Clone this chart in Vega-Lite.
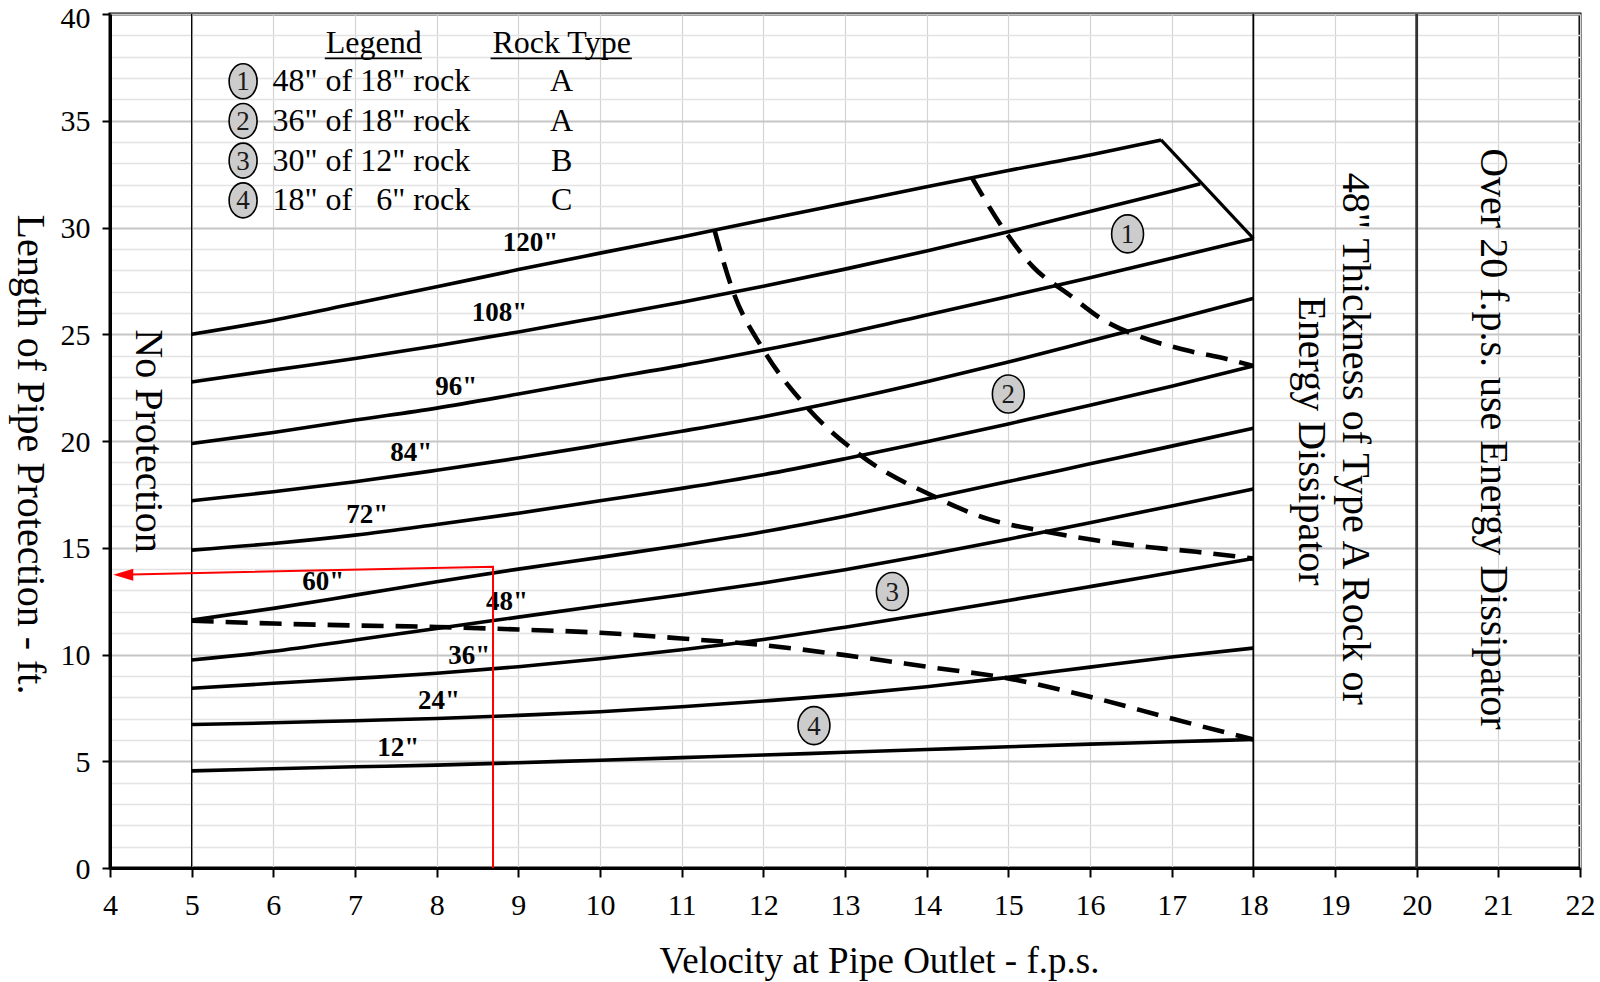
{
  "$schema": "https://vega.github.io/schema/vega-lite/v6.json",
  "width": 1470,
  "height": 854,
  "autosize": {"type": "none"},
  "padding": {"left": 110, "top": 14, "right": 20, "bottom": 114},
  "background": "#ffffff",
  "config": {"font": "Liberation Serif", "view": {"stroke": "#000000", "strokeWidth": 3}},
  "datasets": {
    "curves": [
      {"d":"120","x":5,"y":25.0},{"d":"120","x":6,"y":25.66},{"d":"120","x":7,"y":26.44},{"d":"120","x":8,"y":27.22},{"d":"120","x":9,"y":28.03},{"d":"120","x":10,"y":28.8},{"d":"120","x":11,"y":29.56},{"d":"120","x":12,"y":30.35},{"d":"120","x":13,"y":31.13},{"d":"120","x":14,"y":31.91},{"d":"120","x":15,"y":32.67},{"d":"120","x":16,"y":33.4},{"d":"120","x":16.87,"y":34.1},
      {"d":"108","x":5,"y":22.77},{"d":"108","x":6,"y":23.32},{"d":"108","x":7,"y":23.86},{"d":"108","x":8,"y":24.46},{"d":"108","x":9,"y":25.11},{"d":"108","x":10,"y":25.8},{"d":"108","x":11,"y":26.5},{"d":"108","x":12,"y":27.25},{"d":"108","x":13,"y":28.05},{"d":"108","x":14,"y":28.9},{"d":"108","x":15,"y":29.8},{"d":"108","x":16,"y":30.75},{"d":"108","x":17,"y":31.7},{"d":"108","x":17.35,"y":32.05},
      {"d":"96","x":5,"y":19.88},{"d":"96","x":6,"y":20.4},{"d":"96","x":7,"y":20.98},{"d":"96","x":8,"y":21.54},{"d":"96","x":9,"y":22.2},{"d":"96","x":10,"y":22.88},{"d":"96","x":11,"y":23.53},{"d":"96","x":12,"y":24.26},{"d":"96","x":13,"y":25.04},{"d":"96","x":14,"y":25.9},{"d":"96","x":15,"y":26.77},{"d":"96","x":16,"y":27.65},{"d":"96","x":17,"y":28.56},{"d":"96","x":18,"y":29.49},
      {"d":"84","x":5,"y":17.2},{"d":"84","x":6,"y":17.62},{"d":"84","x":7,"y":18.09},{"d":"84","x":8,"y":18.63},{"d":"84","x":9,"y":19.2},{"d":"84","x":10,"y":19.82},{"d":"84","x":11,"y":20.46},{"d":"84","x":12,"y":21.14},{"d":"84","x":13,"y":21.92},{"d":"84","x":14,"y":22.78},{"d":"84","x":15,"y":23.7},{"d":"84","x":16,"y":24.68},{"d":"84","x":17,"y":25.67},{"d":"84","x":18,"y":26.68},
      {"d":"72","x":5,"y":14.89},{"d":"72","x":6,"y":15.2},{"d":"72","x":7,"y":15.59},{"d":"72","x":8,"y":16.09},{"d":"72","x":9,"y":16.62},{"d":"72","x":10,"y":17.2},{"d":"72","x":11,"y":17.78},{"d":"72","x":12,"y":18.42},{"d":"72","x":13,"y":19.17},{"d":"72","x":14,"y":19.97},{"d":"72","x":15,"y":20.8},{"d":"72","x":16,"y":21.67},{"d":"72","x":17,"y":22.57},{"d":"72","x":18,"y":23.51},
      {"d":"60","x":5,"y":11.61},{"d":"60","x":6,"y":12.16},{"d":"60","x":7,"y":12.78},{"d":"60","x":8,"y":13.41},{"d":"60","x":9,"y":14.0},{"d":"60","x":10,"y":14.55},{"d":"60","x":11,"y":15.12},{"d":"60","x":12,"y":15.75},{"d":"60","x":13,"y":16.48},{"d":"60","x":14,"y":17.28},{"d":"60","x":15,"y":18.1},{"d":"60","x":16,"y":18.93},{"d":"60","x":17,"y":19.76},{"d":"60","x":18,"y":20.6},
      {"d":"48","x":5,"y":9.74},{"d":"48","x":6,"y":10.15},{"d":"48","x":7,"y":10.68},{"d":"48","x":8,"y":11.22},{"d":"48","x":9,"y":11.75},{"d":"48","x":10,"y":12.28},{"d":"48","x":11,"y":12.8},{"d":"48","x":12,"y":13.35},{"d":"48","x":13,"y":13.97},{"d":"48","x":14,"y":14.66},{"d":"48","x":15,"y":15.4},{"d":"48","x":16,"y":16.17},{"d":"48","x":17,"y":16.96},{"d":"48","x":18,"y":17.75},
      {"d":"36","x":5,"y":8.42},{"d":"36","x":6,"y":8.65},{"d":"36","x":7,"y":8.88},{"d":"36","x":8,"y":9.12},{"d":"36","x":9,"y":9.43},{"d":"36","x":10,"y":9.8},{"d":"36","x":11,"y":10.22},{"d":"36","x":12,"y":10.7},{"d":"36","x":13,"y":11.28},{"d":"36","x":14,"y":11.9},{"d":"36","x":15,"y":12.53},{"d":"36","x":16,"y":13.18},{"d":"36","x":17,"y":13.84},{"d":"36","x":18,"y":14.5},
      {"d":"24","x":5,"y":6.72},{"d":"24","x":6,"y":6.8},{"d":"24","x":7,"y":6.9},{"d":"24","x":8,"y":7.0},{"d":"24","x":9,"y":7.15},{"d":"24","x":10,"y":7.32},{"d":"24","x":11,"y":7.55},{"d":"24","x":12,"y":7.82},{"d":"24","x":13,"y":8.12},{"d":"24","x":14,"y":8.49},{"d":"24","x":15,"y":8.93},{"d":"24","x":16,"y":9.41},{"d":"24","x":17,"y":9.88},{"d":"24","x":18,"y":10.3},
      {"d":"12","x":5,"y":4.55},{"d":"12","x":6,"y":4.65},{"d":"12","x":7,"y":4.74},{"d":"12","x":8,"y":4.82},{"d":"12","x":9,"y":4.93},{"d":"12","x":10,"y":5.05},{"d":"12","x":11,"y":5.17},{"d":"12","x":12,"y":5.29},{"d":"12","x":13,"y":5.42},{"d":"12","x":14,"y":5.55},{"d":"12","x":15,"y":5.68},{"d":"12","x":16,"y":5.8},{"d":"12","x":17,"y":5.91},{"d":"12","x":18,"y":6.02}
    ],
    "cap": [{"x":16.87,"y":34.1},{"x":18,"y":29.49}],
    "dashed": [
      {"d":"A","x":11.4,"y":29.9},{"d":"A","x":11.63,"y":27.0},{"d":"A","x":11.99,"y":24.34},{"d":"A","x":12.53,"y":21.6},{"d":"A","x":13.2,"y":19.3},{"d":"A","x":14.08,"y":17.42},{"d":"A","x":14.75,"y":16.35},{"d":"A","x":15.4,"y":15.8},{"d":"A","x":16.05,"y":15.36},{"d":"A","x":16.67,"y":15.05},{"d":"A","x":17.3,"y":14.81},{"d":"A","x":18,"y":14.5},
      {"d":"B","x":14.55,"y":32.36},{"d":"B","x":14.95,"y":29.88},{"d":"B","x":15.3,"y":28.17},{"d":"B","x":15.75,"y":26.84},{"d":"B","x":16.15,"y":25.7},{"d":"B","x":16.64,"y":24.85},{"d":"B","x":17.17,"y":24.26},{"d":"B","x":17.73,"y":23.79},{"d":"B","x":18,"y":23.51},
      {"d":"C","x":5,"y":11.58},{"d":"C","x":6,"y":11.45},{"d":"C","x":7,"y":11.36},{"d":"C","x":8,"y":11.29},{"d":"C","x":9,"y":11.17},{"d":"C","x":10,"y":11.02},{"d":"C","x":11,"y":10.75},{"d":"C","x":12,"y":10.44},{"d":"C","x":13,"y":9.97},{"d":"C","x":14,"y":9.43},{"d":"C","x":15,"y":8.88},{"d":"C","x":16,"y":8.02},{"d":"C","x":17,"y":7.0},{"d":"C","x":18,"y":6.02}
    ],
    "badges": [
      {"t":"1","x":16.46,"y":29.7},{"t":"2","x":15.0,"y":22.2},{"t":"3","x":13.58,"y":12.95},{"t":"4","x":12.62,"y":6.67}
    ],
    "legendBadges": [
      {"t":"1","x":5.63,"y":36.85},{"t":"2","x":5.63,"y":34.99},{"t":"3","x":5.63,"y":33.13},{"t":"4","x":5.63,"y":31.27}
    ],
    "legendRows": [
      {"t":"48\" of 18\" rock","x":5.99,"y":36.85},{"t":"36\" of 18\" rock","x":5.99,"y":34.99},{"t":"30\" of 12\" rock","x":5.99,"y":33.13},{"t":"18\" of\u00a0\u00a0\u00a06\" rock","x":5.99,"y":31.27}
    ],
    "centered": [
      {"t":"Legend","x":7.23,"y":38.62},{"t":"Rock Type","x":9.53,"y":38.62},
      {"t":"A","x":9.53,"y":36.85},{"t":"A","x":9.53,"y":34.99},{"t":"B","x":9.53,"y":33.13},{"t":"C","x":9.53,"y":31.27}
    ],
    "underlines": [
      {"x":6.63,"x2":7.82,"y":37.92},{"x":8.66,"x2":10.39,"y":37.92}
    ],
    "curveLabels": [
      {"t":"120\"","x":9.15,"y":29.26},{"t":"108\"","x":8.77,"y":25.98},{"t":"96\"","x":8.24,"y":22.54},{"t":"84\"","x":7.69,"y":19.42},{"t":"72\"","x":7.15,"y":16.53},{"t":"60\"","x":6.61,"y":13.41},{"t":"48\"","x":8.86,"y":12.46},{"t":"36\"","x":8.4,"y":9.92},{"t":"24\"","x":8.03,"y":7.82},{"t":"12\"","x":7.53,"y":5.64}
    ],
    "notes": [
      {"t":"No Protection","x":4.46,"y":20.0},
      {"t":"48\" Thickness of Type A Rock or","x":19.24,"y":20.1},
      {"t":"Energy Dissipator","x":18.71,"y":20.0},
      {"t":"Over 20 f.p.s. use Energy Dissipator","x":20.93,"y":20.1}
    ],
    "redPath": [
      {"o":1,"x":8.69,"y":0},{"o":2,"x":8.69,"y":14.11},{"o":3,"x":4.12,"y":13.74}
    ],
    "arrow": [{"x":4.04,"y":13.73}]
  },
  "encoding": {
    "x": {
      "field": "x", "type": "quantitative",
      "scale": {"domain": [4, 22], "nice": false, "zero": false},
      "axis": {
        "values": [4,5,6,7,8,9,10,11,12,13,14,15,16,17,18,19,20,21,22],
        "title": "Velocity at Pipe Outlet - f.p.s.",
        "grid": true, "gridColor": "#d4d4d4", "gridWidth": 1.2,
        "domainColor": "#000000", "domainWidth": 3,
        "tickColor": "#000000", "tickWidth": 2, "tickSize": 9,
        "labelFont": "Liberation Serif", "labelFontSize": 30, "labelColor": "#000000", "labelPadding": 13,
        "labelFlush": false, "labelOverlap": false,
        "titleFont": "Liberation Serif", "titleFontSize": 37, "titleFontWeight": "normal", "titleColor": "#000000",
        "titleX": 769, "titleY": 104, "titleBaseline": "alphabetic", "titleAlign": "center"
      }
    },
    "y": {
      "field": "y", "type": "quantitative",
      "scale": {"domain": [0, 40], "nice": false, "zero": false},
      "axis": {
        "values": [0,1,2,3,4,5,6,7,8,9,10,11,12,13,14,15,16,17,18,19,20,21,22,23,24,25,26,27,28,29,30,31,32,33,34,35,36,37,38,39,40],
        "labelExpr": "datum.value % 5 === 0 ? datum.label : ''",
        "labelOffset": {"condition": {"test": "datum.value === 40", "value": 4}, "value": 1},
        "title": "Length of Pipe Protection - ft.",
        "grid": true,
        "gridColor": {"condition": {"test": "datum.value % 5 === 0", "value": "#c6c6c6"}, "value": "#e3e3e3"},
        "gridWidth": {"condition": {"test": "datum.value % 5 === 0", "value": 2.2}, "value": 1.6},
        "tickOpacity": {"condition": {"test": "datum.value % 5 === 0", "value": 1}, "value": 0},
        "domainColor": "#000000", "domainWidth": 3,
        "tickColor": "#000000", "tickWidth": 2, "tickSize": 8,
        "labelFont": "Liberation Serif", "labelFontSize": 30, "labelColor": "#000000", "labelPadding": 12,
        "labelFlush": false, "labelOverlap": false,
        "titleFont": "Liberation Serif", "titleFontSize": 40, "titleFontWeight": "normal", "titleColor": "#000000",
        "titleAngle": 90, "titleX": -81, "titleY": 440, "titleAlign": "center", "titleBaseline": "middle"
      }
    }
  },
  "layer": [
    {"data": {"values": [{"x": 5, "y": 0, "y2": 40}]}, "mark": {"type": "rule", "color": "#000000", "strokeWidth": 1.3}, "encoding": {"y2": {"field": "y2"}}},
    {"data": {"values": [{"x": 18, "y": 0, "y2": 40}]}, "mark": {"type": "rule", "color": "#000000", "strokeWidth": 1.8}, "encoding": {"y2": {"field": "y2"}}},
    {"data": {"values": [{"x": 20, "y": 0, "y2": 40}]}, "mark": {"type": "rule", "color": "#333333", "strokeWidth": 2.8}, "encoding": {"y2": {"field": "y2"}}},
    {"data": {"name": "curves"}, "mark": {"type": "line", "color": "#000000", "strokeWidth": 3.6, "interpolate": "monotone"}, "encoding": {"detail": {"field": "d"}}},
    {"data": {"name": "cap"}, "mark": {"type": "line", "color": "#000000", "strokeWidth": 3.2}, "encoding": {}},
    {"data": {"name": "dashed"}, "mark": {"type": "line", "color": "#000000", "strokeWidth": 4.6, "strokeDash": [22, 12], "interpolate": "monotone"}, "encoding": {"detail": {"field": "d"}}},
    {"data": {"name": "badges"}, "mark": {"type": "point", "shape": "M0,-1A0.84,1,0,1,1,0,1A0.84,1,0,1,1,0,-1Z", "size": 1444, "filled": true, "fill": "#cccccc", "stroke": "#000000", "strokeWidth": 1.6, "opacity": 1}},
    {"data": {"name": "badges"}, "mark": {"type": "text", "font": "Liberation Serif", "fontSize": 27, "color": "#1a1a1a", "align": "center", "baseline": "middle", "dy": 1}, "encoding": {"text": {"field": "t"}}},
    {"data": {"name": "legendBadges"}, "mark": {"type": "point", "shape": "M0,-1A0.8,1,0,1,1,0,1A0.8,1,0,1,1,0,-1Z", "size": 1225, "filled": true, "fill": "#cccccc", "stroke": "#000000", "strokeWidth": 1.6, "opacity": 1}},
    {"data": {"name": "legendBadges"}, "mark": {"type": "text", "font": "Liberation Serif", "fontSize": 27, "color": "#1a1a1a", "align": "center", "baseline": "middle", "dy": 1}, "encoding": {"text": {"field": "t"}}},
    {"data": {"name": "legendRows"}, "mark": {"type": "text", "font": "Liberation Serif", "fontSize": 32, "color": "#000000", "align": "left", "baseline": "middle"}, "encoding": {"text": {"field": "t"}}},
    {"data": {"name": "centered"}, "mark": {"type": "text", "font": "Liberation Serif", "fontSize": 32, "color": "#000000", "align": "center", "baseline": "middle"}, "encoding": {"text": {"field": "t"}}},
    {"data": {"name": "underlines"}, "mark": {"type": "rule", "color": "#000000", "strokeWidth": 1.6}, "encoding": {"x2": {"field": "x2"}}},
    {"data": {"name": "curveLabels"}, "mark": {"type": "text", "font": "Liberation Serif", "fontSize": 27, "fontWeight": "bold", "color": "#000000", "align": "center", "baseline": "middle"}, "encoding": {"text": {"field": "t"}}},
    {"data": {"name": "notes"}, "mark": {"type": "text", "font": "Liberation Serif", "fontSize": 40, "color": "#000000", "align": "center", "baseline": "middle", "angle": 90}, "encoding": {"text": {"field": "t"}}},
    {"data": {"name": "redPath"}, "mark": {"type": "line", "color": "#ff0000", "strokeWidth": 2}, "encoding": {"order": {"field": "o"}}},
    {"data": {"name": "arrow"}, "mark": {"type": "point", "shape": "M0,0L2,-0.6L2,0.6Z", "size": 400, "filled": true, "fill": "#ff0000", "stroke": null, "opacity": 1}}
  ]
}
